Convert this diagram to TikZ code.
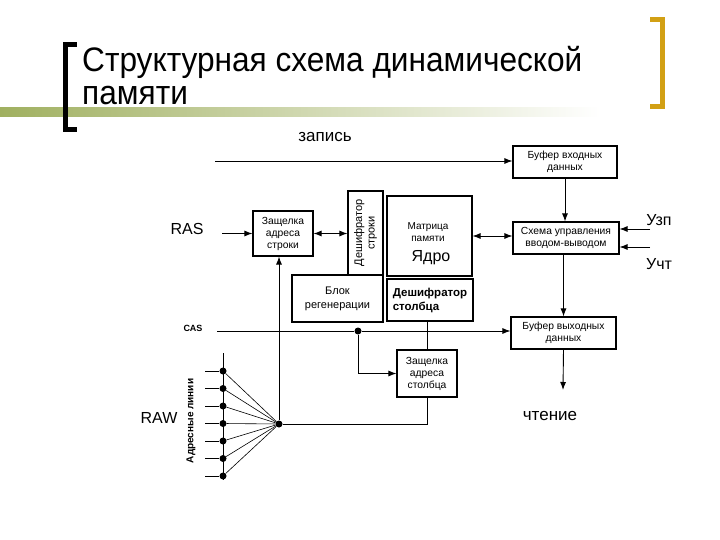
\documentclass[tikz,border=0pt]{standalone}
\usepackage{fontspec}
\setmainfont{Liberation Sans}
\newfontfamily\titlefont[FakeStretch=0.93]{Liberation Sans}
\usetikzlibrary{arrows.meta}
\definecolor{olivebar}{RGB}{160,176,96}
\definecolor{goldbr}{RGB}{210,160,20}
\begin{document}
\begin{tikzpicture}[x=1pt,y=-1pt,
  box/.style={draw, line width=1.1pt, inner sep=1pt, align=center, font=\fontsize{10.3}{12}\selectfont},
  arr/.style={-{Latex[length=8pt,width=6pt]}, line width=0.9pt},
  dbl/.style={{Latex[length=8pt,width=6pt]}-{Latex[length=8pt,width=6pt]}, line width=0.9pt},
  ln/.style={line width=0.9pt},
  dot/.style={circle, fill, inner sep=0pt, minimum size=7pt},
  big/.style={font=\fontsize{16}{18}\selectfont},
  ttl/.style={anchor=base west, inner sep=0pt, font=\titlefont\fontsize{34}{36}\selectfont}]
\useasboundingbox (0,0) rectangle (720,540);
% header decoration
\shade[left color=olivebar, right color=white] (0,108) rectangle (600,117);
\fill[black] (63,42) rectangle (68,132);
\fill[black] (63,42) rectangle (77,47);
\fill[black] (63,127) rectangle (77,132);
\fill[goldbr] (660,17) rectangle (665,109);
\fill[goldbr] (650,17) rectangle (665,22);
\fill[goldbr] (650,104) rectangle (665,109);
\node[ttl] (t1) at (82,72) {Структурная схема динамической};
\node[ttl] (t2) at (82,105) {памяти};
% boxes
\node[box, minimum width=104pt, minimum height=32pt] (bin) at (565,162) {Буфер входных\\данных};
\node[box, minimum width=106pt, minimum height=32pt] (ctrl) at (566,238) {Схема управления\\вводом-выводом};
\node[box, minimum width=105pt, minimum height=32pt] (bout) at (563.5,333) {Буфер выходных\\данных};
\node[box, minimum width=85pt, minimum height=80pt] (mat) at (429.5,236) {};
\node[font=\fontsize{10}{11.5}\selectfont, align=center] (matt) at (428,232) {Матрица\\памяти};
\node[big] (core) at (431,258) {Ядро};
\node[box, minimum width=84pt, minimum height=35pt, rotate=90, font=\fontsize{11}{12.5}\selectfont] (rdec) at (365.5,233) {Дешифратор\\строки};
\node[box, minimum width=60pt, minimum height=45pt] (rlatch) at (283,233.5) {Защелка\\адреса\\строки};
\node[box, minimum width=91pt, minimum height=47pt, font=\fontsize{11}{14}\selectfont] (regen) at (337.5,298.5) {Блок\\регенерации};
\node[box, minimum width=86pt, minimum height=42pt, align=left, font=\fontsize{11.5}{14}\selectfont\bfseries] (cdec) at (430,300) {Дешифратор\\столбца\hspace*{25pt}};
\node[box, minimum width=60pt, minimum height=47pt] (clatch) at (427,373.5) {Защелка\\адреса\\столбца};
% labels
\node[big, font=\fontsize{17}{19}\selectfont] (lwr) at (325,137) {запись};
\node[big] (lras) at (187,229) {RAS};
\node[big] (luzp) at (659,220) {Узп};
\node[big] (luct) at (659,264) {Учт};
\node[font=\fontsize{9}{10}\selectfont\bfseries] (lcas) at (193,328) {CAS};
\node[big] (lraw) at (159,418) {RAW};
\node[big, font=\fontsize{17}{19}\selectfont] (lrd) at (550,416) {чтение};
\node[rotate=90, font=\fontsize{10}{11}\selectfont\bfseries] (laddr) at (191,421) {Адресные линии};
% coordinates
\coordinate (wr) at (215,161);
\coordinate (ras) at (222,233.5);
\coordinate (uzp) at (650,229);
\coordinate (uct) at (650,247);
\coordinate (cas) at (217,331);
\coordinate (rd) at (563,390);
\node[dot] (hub) at (279,424) {};
\node[dot] (cdot) at (358,331) {};
% connectors
\draw[arr] (wr) -- (wr -| bin.west);
\draw[arr] (bin.south) -- (bin.south |- ctrl.north);
\draw[arr] (uzp) -- (uzp -| ctrl.east);
\draw[arr] (uct) -- (uct -| ctrl.east);
\draw[dbl] (mat.east) -- (mat.east -| ctrl.west);
\draw[arr] (bout.north |- ctrl.south) -- (bout.north);
\draw[arr] (bout.south) -- (rd);
\draw[arr] (ras) -- (ras -| rlatch.west);
\draw[dbl] (rlatch.east) -- (rlatch.east -| rdec.north);
\draw[arr] (hub) -- (hub |- rlatch.south);
\draw[ln] (cas) -- (cdot);
\draw[arr] (cdot) -- (cdot -| bout.west);
\draw[arr] (cdot) |- (clatch.west);
\draw[ln] (clatch.north) -- (clatch.north |- cdec.south);
\draw[line width=1.6pt] ([xshift=-4pt]clatch.north |- cdec.south) -- ([xshift=4pt]clatch.north |- cdec.south);
\draw[ln] (clatch.south) |- (hub);
% address lines
\coordinate (sptop) at (223,353);
\coordinate (spbot) at (223,480);
\draw[ln] (sptop) -- (spbot);
\foreach \i/\yy in {1/371,2/388.5,3/406,4/423.5,5/441,6/458.5,7/476} {
  \node[dot] (a\i) at (223,\yy) {};
  \coordinate (s\i) at (205,\yy);
  \draw[ln] (s\i) -- (a\i);
  \draw[line width=0.6pt] (a\i) -- (hub);
}
\end{tikzpicture}
\end{document}
